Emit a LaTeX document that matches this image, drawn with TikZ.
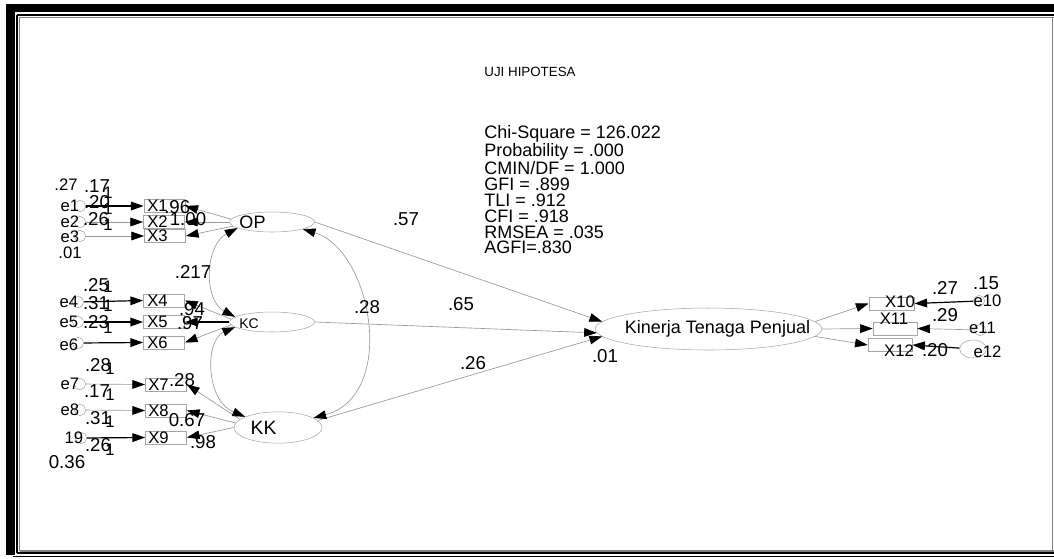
\documentclass[tikz,border=0pt]{standalone}
\usepackage{fontspec}
\setmainfont{Liberation Sans}
\usetikzlibrary{shapes.geometric, arrows.meta}

\begin{document}
\begin{tikzpicture}[x=0.75pt, y=-0.75pt,
    latent/.style={draw=gray!70, ellipse, inner sep=0pt},
    obs/.style={draw=gray!70, rectangle, inner sep=0pt, minimum width=31pt, minimum height=10pt},
    err/.style={draw=gray!70, circle, inner sep=0pt, minimum size=8.5pt},
    num/.style={inner sep=0pt, font=\fontsize{14}{14}\selectfont},
    small/.style={inner sep=0pt, font=\fontsize{12.5}{12.5}\selectfont},
    xname/.style={inner sep=0pt, font=\fontsize{12.5}{12.5}\selectfont},
    regr/.style={draw=gray!80, line width=0.5pt, -{Triangle[length=9.5pt,width=6.5pt,color=black]}},
    regrb/.style={regr, draw=black, line width=0.9pt},
    cov/.style={draw=gray!80, line width=0.5pt,
      {Triangle[length=9.5pt,width=6.5pt,color=black]}-{Triangle[length=9.5pt,width=6.5pt,color=black]}},
  ]
  \useasboundingbox (0,0) rectangle (1054,558);
  % frame
  \fill[black] (6,4) rectangle (1054,12);
  \fill[black] (6,4) rectangle (14.5,555);
  \draw[line width=1.5pt] (17,15) -- (1054,15);
  \draw[line width=1.5pt] (17,15) -- (17,553);
  \draw[line width=1.5pt] (17,553) -- (1054,553);
  \draw[gray, line width=0.8pt] (19,17.5) -- (1054,17.5);
  \draw[gray, line width=0.8pt] (19.5,17.5) -- (19.5,551);
  \draw[gray, line width=0.8pt] (19.5,551) -- (1054,551);
  \draw[gray, line width=0.8pt] (1052.8,17.5) -- (1052.8,551);
  \draw[line width=1pt] (13,556.7) -- (1054,556.7);

  % title and fit indices
  \node[inner sep=0pt, font=\fontsize{10}{10}\selectfont] (title) at (530,72) {UJI HIPOTESA};
  \node[inner sep=0pt, anchor=north west, align=left, font=\fontsize{13.5}{11.9}\selectfont]
    (fit) at (484,125) {Chi-Square = 126.022\\Probability = .000\\CMIN/DF = 1.000\\GFI = .899\\
    TLI = .912\\CFI = .918\\RMSEA = .035\\AGFI=.830};

  % latent variables
  \node[latent, minimum width=63.75pt, minimum height=15pt] (OP) at (272,222) {};
  \node[latent, minimum width=63.75pt, minimum height=15pt] (KC) at (272,322) {};
  \node[latent, minimum width=66pt, minimum height=23.5pt] (KK) at (278,427.5) {};
  \node[latent, minimum width=170pt, minimum height=31.5pt] (KIN) at (708.5,329) {};
  \node[inner sep=0pt, font=\fontsize{13.5}{13.5}\selectfont] (tOP) at (252.5,222) {OP};
  \node[inner sep=0pt, font=\fontsize{10.5}{10.5}\selectfont] (tKC) at (249,324) {KC};
  \node[inner sep=0pt, font=\fontsize{14.5}{14.5}\selectfont] (tKK) at (263.5,427.5) {KK};
  \node[inner sep=0pt, font=\fontsize{13.5}{13.5}\selectfont] (tKIN) at (717.5,329) {Kinerja Tenaga Penjual};

  % indicators
  \node[obs] (X1) at (164.5,206) {};
  \node[obs] (X2) at (164,222) {};
  \node[obs] (X3) at (165,236) {};
  \node[obs] (X4) at (164,300.5) {};
  \node[obs] (X5) at (164,322) {};
  \node[obs] (X6) at (164,342.5) {};
  \node[obs] (X7) at (166,384.5) {};
  \node[obs] (X8) at (166,410.5) {};
  \node[obs] (X9) at (166,437.5) {};
  \node[obs, minimum width=34pt] (X10) at (891.5,303.5) {};
  \node[obs, minimum width=33pt] (X11) at (895,328.5) {};
  \node[obs, minimum width=33pt] (X12) at (890,345) {};
  \node[xname, anchor=west] (tX1) at (147,206) {X1};
  \node[xname, anchor=west] (tX2) at (147,222) {X2};
  \node[xname, anchor=west] (tX3) at (147,236) {X3};
  \node[xname, anchor=west] (tX4) at (147,300.5) {X4};
  \node[xname, anchor=west] (tX5) at (147,322) {X5};
  \node[xname, anchor=west] (tX6) at (147,343) {X6};
  \node[xname, anchor=west] (tX7) at (148,385) {X7};
  \node[xname, anchor=west] (tX8) at (148,410.5) {X8};
  \node[xname, anchor=west] (tX9) at (148,437.5) {X9};
  \node[xname] (tX10) at (900,302) {X10};
  \node[xname] (tX11) at (894,318.5) {X11};
  \node[xname] (tX12) at (899,351) {X12};

  % errors
  \node[err] (e1) at (80,206) {};
  \node[err] (e2) at (80,222) {};
  \node[err] (e3) at (80,236) {};
  \node[err] (e4) at (78,302) {};
  \node[err] (e5) at (78,322) {};
  \node[err] (e6) at (78,343) {};
  \node[err] (e7) at (80,384) {};
  \node[err] (e8) at (80,410) {};
  \node[err] (e9) at (81,438) {};
  \node[err] (e10) at (979,301) {};
  \node[err] (e11) at (980,330) {};
  \node[err, ellipse, minimum width=20pt, minimum height=13.5pt] (e12) at (973,349) {};
  \node[small] (te1) at (70,206) {e1};
  \node[small] (te2) at (70,222) {e2};
  \node[small] (te3) at (70,237) {e3};
  \node[small] (te4) at (69,302) {e4};
  \node[small] (te5) at (69,322) {e5};
  \node[small] (te6) at (69,345) {e6};
  \node[small] (te7) at (70,384) {e7};
  \node[small] (te8) at (70,410) {e8};
  \node[small] (te9) at (74,438) {19};
  \node[small] (te10) at (987.5,301) {e10};
  \node[small] (te11) at (982.5,328) {e11};
  \node[small] (te12) at (987.5,352) {e12};

  % error paths
  \draw[regrb] (e1) -- (X1.west);
  \draw[regr] (e2) -- (X2.west);
  \draw[regr] (e3) -- (X3.west);
  \draw[regrb] (e4) -- (X4.west);
  \draw[regrb] (e5) -- (X5.west);
  \draw[regrb] (e6) -- (X6.west);
  \draw[regr] (e7) -- (X7.west);
  \draw[regr] (e8) -- (X8.west);
  \draw[regrb] (e9) -- (X9.west);
  \draw[regrb] (e10) -- (X10.east);
  \draw[regr] (e11) -- (X11.east);
  \draw[regrb] (e12) -- (X12.east);

  % loadings
  \draw[regr] (OP.176) -- (X1.east);
  \draw[regr] (OP.west) -- (X2.east);
  \draw[regr] (OP.186) -- (X3.east);
  \draw[regr] (KC.176) -- (X4.east);
  \draw[regrb] (KC.west) -- (X5.east);
  \draw[regr] (KC.184) -- (X6.east);
  \draw[regr] (KK.168) -- (X7.east);
  \draw[regr] (KK.174) -- (X8.east);
  \draw[regr] (KK.west) -- (X9.east);
  \draw[regr] (KIN.4) -- (X10.west);
  \draw[regr] (KIN.east) -- (X11.west);
  \draw[regr] (KIN.-4) -- (X12.west);

  % structural paths
  \draw[regr] (OP.east) -- (KIN.176);
  \draw[regr] (KC.east) -- (KIN.182);
  \draw[regr] (KK.10) -- (KIN.184);

  % covariances
  \draw[cov] (OP.190) .. controls (205,245) and (203,300) .. (KC.172);
  \draw[cov] (KC.188) .. controls (205,340) and (205,400) .. (KK.162);
  \draw[cov] (OP.-13) .. controls (372,250) and (398,395) .. (KK.15);

  % estimates, left side
  \node[small] (v1) at (66,185) {.27};
  \node[num] (v2) at (97,186) {.17};
  \node[num] (v3) at (97,202) {.20};
  \node[num] (v4) at (96,219) {.26};
  \node[small] (v5) at (70,253) {.01};
  \node[num] (v6) at (96,285) {.25};
  \node[num] (v7) at (96,303) {.31};
  \node[num] (v8) at (96,322) {.23};
  \node[num] (v9) at (98,365) {.28};
  \node[num] (v10) at (97,391) {.17};
  \node[num] (v11) at (98,418) {.31};
  \node[num] (v12) at (98,445) {.26};
  \node[num] (v13) at (67,462) {0.36};
  \node[small] (w1) at (108,193) {1};
  \node[small] (w2) at (108,209) {1};
  \node[small] (w3) at (108,225) {1};
  \node[small] (w4) at (108,287) {1};
  \node[small] (w5) at (108,306) {1};
  \node[small] (w6) at (108,328) {1};
  \node[small] (w7) at (110,369) {1};
  \node[small] (w8) at (110,395) {1};
  \node[small] (w9) at (110,422) {1};
  \node[small] (w10) at (110,450) {1};
  \node[num, anchor=west] (l1) at (164,207) {.96};
  \node[num] (l2) at (188,219) {1.00};
  \node[num] (l3) at (192,309) {.94};
  \node[num] (l4) at (190,323) {.97};
  \node[num] (l5) at (182,380) {.28};
  \node[num] (l6) at (187,420) {0.67};
  \node[num] (l7) at (203,442) {.98};
  \node[num] (c1) at (193,272) {.217};
  \node[num] (c2) at (367,307) {.28};
  % estimates, structural part
  \node[num] (p1) at (406,219) {.57};
  \node[num] (p2) at (461,304) {.65};
  \node[num] (p3) at (473,363) {.26};
  \node[num] (r1) at (605,356) {.01};
  % estimates, right side
  \node[num] (v14) at (945,288) {.27};
  \node[num] (v15) at (986,283) {.15};
  \node[num] (v16) at (945,315) {.29};
  \node[num] (v17) at (935,350) {.20};
\end{tikzpicture}
\end{document}
